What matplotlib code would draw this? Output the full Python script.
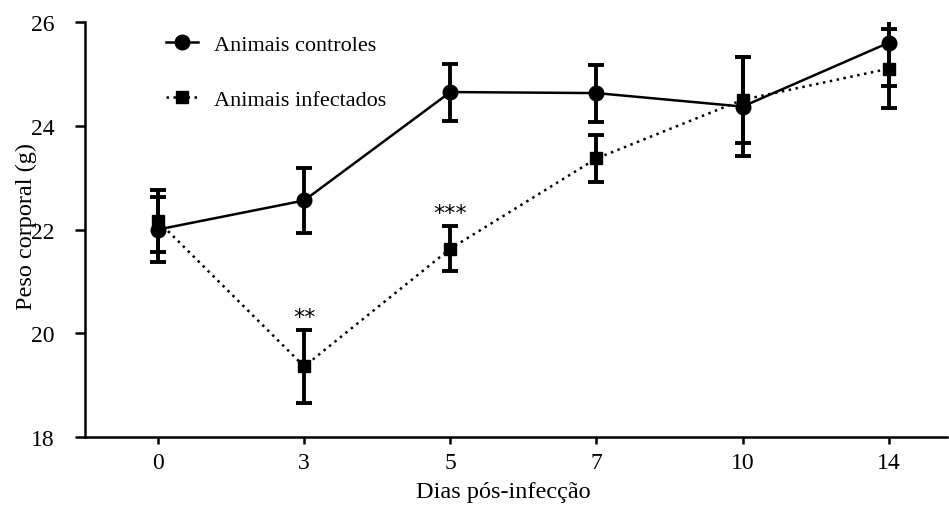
import matplotlib.pyplot as plt
import numpy as np

plt.rcParams['font.family'] = ['Liberation Serif', 'DejaVu Serif']

# days after infection (categorical axis)
dias = ['0', '3', '5', '7', '10', '14']

# body weight (g), mean and error per day
controles = [22.0, 22.56, 24.65, 24.63, 24.37, 25.6]
controles_err = [0.62, 0.63, 0.55, 0.55, 0.95, 0.83]
infectados = [22.16, 19.36, 21.63, 23.37, 24.5, 25.1]
infectados_err = [0.6, 0.7, 0.43, 0.45, 0.83, 0.76]

# significance marks over the infected group
signif = {1: '**', 2: '***'}

x = np.arange(len(dias))

fig = plt.figure(figsize=(9.49, 5.06), dpi=100)
ax = fig.add_axes([0.0896, 0.1344, 0.9084, 0.8201])

eb_c = ax.errorbar(x, controles, yerr=controles_err, fmt='-o', color='black',
                   lw=1.8, ms=10.5, elinewidth=2.8, capsize=6, capthick=2.8,
                   zorder=3)
eb_i = ax.errorbar(x, infectados, yerr=infectados_err, fmt='s',
                   ls=(0, (1, 1.8)), color='black', lw=1.8, ms=8.5,
                   elinewidth=2.8, capsize=6, capthick=2.8, zorder=3)

for i, txt in signif.items():
    ax.text(x[i], infectados[i] + infectados_err[i] + 0.06, txt,
            ha='center', va='bottom', fontsize=16,
            family=['DejaVu Sans'])

ax.set_xlim(-0.5, 5.4)
ax.set_ylim(18, 26)
ax.set_xticks(x)
ax.set_xticklabels(dias)
ax.set_yticks([18, 20, 22, 24, 26])

for s in ['top', 'right']:
    ax.spines[s].set_visible(False)
for s in ['left', 'bottom']:
    ax.spines[s].set_linewidth(1.8)

ax.tick_params(axis='both', direction='out', width=1.8, labelsize=17)
ax.tick_params(axis='y', length=7, pad=15)
ax.tick_params(axis='x', length=5, pad=6)

ax.set_ylabel('Peso corporal (g)', fontsize=17.5)
ax.yaxis.set_label_coords(-0.0557, 0.51)
ax.set_xlabel('Dias pós-infecção', fontsize=17.5)
ax.xaxis.set_label_coords(0.485, -0.105)

# legend shows only line + marker, no error bars
ax.legend([eb_c[0], eb_i[0]], ['Animais controles', 'Animais infectados'],
          loc='upper left', bbox_to_anchor=(166 / 949, 1 - 35 / 506),
          bbox_transform=fig.transFigure, frameon=False, fontsize=16,
          handlelength=1.45, labelspacing=1.55, handletextpad=0.7,
          borderpad=0, borderaxespad=0)

fig.savefig('out.png', dpi=100)
